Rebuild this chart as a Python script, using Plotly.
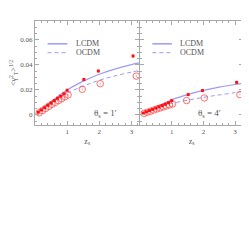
import plotly.graph_objects as go

# ---- data ----
z_curve = [0.1, 0.25, 0.5, 0.75, 1.0, 1.5, 2.0, 2.5, 3.0, 3.25]
lcdm_1 = [0.0025, 0.0055, 0.0105, 0.0155, 0.0200, 0.0270, 0.0325, 0.0368, 0.0402, 0.0415]
ocdm_1 = [0.0022, 0.0050, 0.0093, 0.0136, 0.0175, 0.0230, 0.0277, 0.0313, 0.0342, 0.0355]
lcdm_4 = [0.0014, 0.0030, 0.0060, 0.0092, 0.0122, 0.0163, 0.0196, 0.0222, 0.0243, 0.0252]
ocdm_4 = [0.0012, 0.0026, 0.0050, 0.0073, 0.0092, 0.0118, 0.0141, 0.0160, 0.0178, 0.0186]

z_fill = [0.1, 0.2, 0.3, 0.4, 0.5, 0.6, 0.7, 0.8, 0.9, 1.0, 1.52, 1.97, 3.05]
z_open = [0.13, 0.23, 0.33, 0.43, 0.53, 0.63, 0.73, 0.83, 0.93, 1.03, 1.47, 2.03, 3.15]
fill_1 = [0.0022, 0.0040, 0.0058, 0.0077, 0.0096, 0.0115, 0.0133, 0.0150, 0.0170, 0.0198, 0.0283, 0.0350, 0.0470]
err_1 = [0.0003, 0.0003, 0.0004, 0.0004, 0.0005, 0.0005, 0.0005, 0.0006, 0.0006, 0.0007, 0.0008, 0.0009, 0.0012]
open_1 = [0.0018, 0.0035, 0.0052, 0.0068, 0.0085, 0.0100, 0.0115, 0.0130, 0.0145, 0.0160, 0.0205, 0.0250, 0.0310]
fill_4 = [0.0015, 0.0025, 0.0035, 0.0045, 0.0055, 0.0065, 0.0075, 0.0086, 0.0098, 0.0115, 0.0163, 0.0195, 0.0260]
err_4 = [0.0002, 0.0002, 0.0002, 0.0003, 0.0003, 0.0003, 0.0003, 0.0004, 0.0004, 0.0004, 0.0005, 0.0005, 0.0007]
open_4 = [0.0013, 0.0022, 0.0030, 0.0039, 0.0048, 0.0056, 0.0064, 0.0072, 0.0080, 0.0088, 0.0115, 0.0136, 0.0163]

x_ticks = [1, 2, 3]
y_ticks = [0, 0.02, 0.04, 0.06]
y_ticklabels = ["0", "0.02", "0.04", "0.06"]

CURVE = "#9b9bf5"
RED = "#ff1010"
RED_OPEN = "#ff4a4a"
FRAME = "#a8a8a8"
TXT = "#555555"
FONT = "Liberation Serif"

fig = go.Figure()

panels = [("x", "y", lcdm_1, ocdm_1, fill_1, err_1, open_1),
          ("x2", "y2", lcdm_4, ocdm_4, fill_4, err_4, open_4)]

for xa, ya, lc, oc, fv, ev, ov in panels:
    fig.add_trace(go.Scatter(x=z_curve, y=lc, mode="lines", line=dict(color=CURVE, width=1.2, shape="spline"),
                             xaxis=xa, yaxis=ya, showlegend=False))
    fig.add_trace(go.Scatter(x=z_curve, y=oc, mode="lines", line=dict(color=CURVE, width=1, dash="4px,3px", shape="spline"),
                             xaxis=xa, yaxis=ya, showlegend=False))
    fig.add_trace(go.Scatter(x=z_open, y=ov, mode="markers",
                             marker=dict(symbol="circle-open", size=6.5, color=RED_OPEN, line=dict(width=0.8)),
                             error_y=dict(type="data", array=[e * 0.8 for e in ev], color=RED_OPEN, thickness=0.6, width=0),
                             xaxis=xa, yaxis=ya, showlegend=False))
    fig.add_trace(go.Scatter(x=z_fill, y=fv, mode="markers",
                             marker=dict(symbol="square", size=3, color=RED),
                             error_y=dict(type="data", array=ev, color=RED, thickness=0.8, width=0),
                             xaxis=xa, yaxis=ya, showlegend=False))

axis_common = dict(showline=True, linecolor=FRAME, linewidth=1, mirror="ticks", ticks="inside",
                   ticklen=4, tickcolor=FRAME, showgrid=False, zeroline=False,
                   tickfont=dict(family=FONT, size=7, color=TXT))

xr = [0, 3.25]
yr = [-0.008, 0.075]

fig.update_layout(
    width=249, height=249, margin=dict(l=0, r=0, t=0, b=0),
    paper_bgcolor="white", plot_bgcolor="white", showlegend=False,
    xaxis=dict(domain=[0.1084, 0.5281], range=xr, tickvals=x_ticks, anchor="y",
               minor=dict(dtick=0.2, ticks="inside", ticklen=2, tickcolor=FRAME),
               title=dict(text="z<sub>s</sub>", font=dict(family=FONT, size=8, color=TXT), standoff=2),
               **axis_common),
    xaxis2=dict(domain=[0.5301, 0.9438], range=xr, tickvals=x_ticks, anchor="y2",
                minor=dict(dtick=0.2, ticks="inside", ticklen=2, tickcolor=FRAME),
                title=dict(text="z<sub>s</sub>", font=dict(family=FONT, size=8, color=TXT), standoff=2),
                **axis_common),
    yaxis=dict(domain=[0.530, 0.948], range=yr, tickvals=y_ticks, ticktext=y_ticklabels, anchor="x",
               minor=dict(dtick=0.005, ticks="inside", ticklen=2, tickcolor=FRAME),
               title=dict(text="&lt;γ<sup>2</sup><sub>T</sub>&gt;<sup>1/2</sup>",
                          font=dict(family=FONT, size=8, color=TXT), standoff=3),
               **axis_common),
    yaxis2=dict(domain=[0.530, 0.948], range=yr, tickvals=y_ticks, showticklabels=False, anchor="x2",
                minor=dict(dtick=0.005, ticks="inside", ticklen=2, tickcolor=FRAME),
                **axis_common),
)

# legends and labels
shapes = []
annotations = []
for xa, ya, th in [("x", "y", "1′"), ("x2", "y2", "4′")]:
    xd = xa + " domain"
    yd = ya + " domain"
    shapes.append(dict(type="line", xref=xd, yref=yd, x0=0.12, x1=0.31, y0=0.78, y1=0.78,
                       line=dict(color=CURVE, width=1.5)))
    shapes.append(dict(type="line", xref=xd, yref=yd, x0=0.12, x1=0.31, y0=0.695, y1=0.695,
                       line=dict(color=CURVE, width=1, dash="4px,3px")))
    annotations.append(dict(text="LCDM", xref=xd, yref=yd, x=0.37, y=0.78, xanchor="left", yanchor="middle",
                            showarrow=False, font=dict(family=FONT, size=8, color=TXT)))
    annotations.append(dict(text="OCDM", xref=xd, yref=yd, x=0.37, y=0.695, xanchor="left", yanchor="middle",
                            showarrow=False, font=dict(family=FONT, size=8, color=TXT)))
    annotations.append(dict(text="θ<sub>s</sub> = " + th, xref=xd, yref=yd, x=0.67, y=0.11,
                            xanchor="center", yanchor="middle", showarrow=False,
                            font=dict(family=FONT, size=9, color=TXT)))

fig.update_layout(shapes=shapes, annotations=annotations)
fig.write_html("out.html")
